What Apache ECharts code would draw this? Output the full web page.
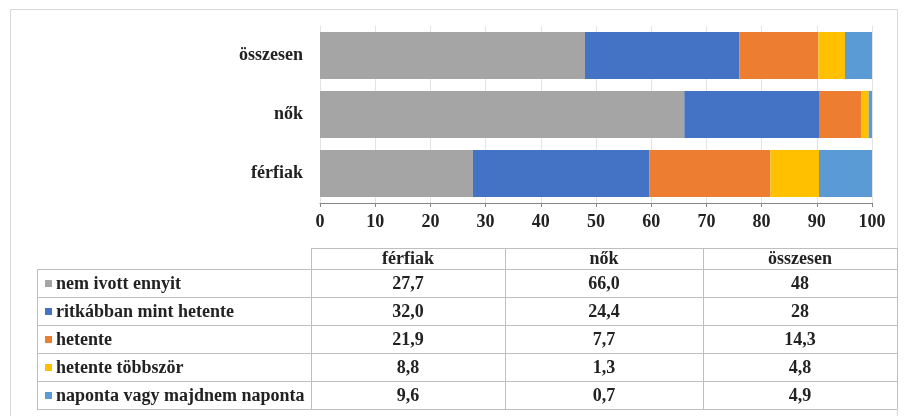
<!DOCTYPE html>
<html>
<head>
<meta charset="utf-8">
<script src="https://cdn.jsdelivr.net/npm/echarts@6/dist/echarts.min.js"></script>
<style>
  html, body { margin: 0; padding: 0; background: #fff; }
  #chart { width: 904px; height: 416px; }
</style>
</head>
<body>
<div id="chart"></div>
<script>
// kategóriák (alulról felfelé, ahogy a tengelyen)
var groups = ['férfiak', 'nők', 'összesen'];
var seriesNames = ['nem ivott ennyit', 'ritkábban mint hetente', 'hetente', 'hetente többször', 'naponta vagy majdnem naponta'];
var colors = ['#a5a5a5', '#4472c4', '#ed7d31', '#ffc000', '#5b9bd5'];
// értékek: egy tömb soronként, sorrend: férfiak, nők, összesen
var nemIvott = [27.7, 66.0, 48];
var ritkabban = [32.0, 24.4, 28];
var hetente = [21.9, 7.7, 14.3];
var hetenteTobb = [8.8, 1.3, 4.8];
var naponta = [9.6, 0.7, 4.9];
var values = [nemIvott, ritkabban, hetente, hetenteTobb, naponta];
// tizedesjegyek oszloponként a táblázatban (null = ahogy van)
var colDigits = [1, 1, null];
var xTicks = [0, 10, 20, 30, 40, 50, 60, 70, 80, 90, 100];

function fmt(v, d) {
    var s = d === null ? String(v) : v.toFixed(d);
    return s.replace('.', ',');
}

var chart = echarts.init(document.getElementById('chart'));

/* adattábla a diagram alatt */
var tbl = {
    left: 37, c1: 311, c2: 505, c3: 703, right: 897,
    headTop: 248, rowTop: 269, rowH: 28
};
var lineColor = '#bfbfbf';
var font = 'Liberation Serif, DejaVu Serif, serif';
var txtColor = '#222';
var fs = 18;
var graphics = [];
function hline(x1, x2, y) {
    graphics.push({type: 'line', shape: {x1: x1, y1: y + 0.5, x2: x2, y2: y + 0.5},
        style: {stroke: lineColor, lineWidth: 1}, silent: true});
}
function vline(x, y1, y2) {
    graphics.push({type: 'line', shape: {x1: x + 0.5, y1: y1, x2: x + 0.5, y2: y2},
        style: {stroke: lineColor, lineWidth: 1}, silent: true});
}
function txt(s, x, y, align) {
    return {type: 'text', x: x, y: y,
        style: {text: s, fontSize: fs, fontWeight: 'bold', fontFamily: font, fill: txtColor,
            align: align, verticalAlign: 'middle'}};
}
var cols = [tbl.c1, tbl.c2, tbl.c3, tbl.right];
var bottom = tbl.rowTop + tbl.rowH * seriesNames.length;
hline(tbl.c1, tbl.right, tbl.headTop);
for (var r = 0; r <= seriesNames.length; r++) {
    hline(tbl.left, tbl.right, tbl.rowTop + r * tbl.rowH);
}
vline(tbl.left, tbl.rowTop, bottom);
cols.forEach(function (x) { vline(x, tbl.headTop, bottom); });

groups.forEach(function (g, c) {
    var cx = (cols[c] + cols[c + 1]) / 2;
    graphics.push(txt(g, cx, (tbl.headTop + tbl.rowTop) / 2 + 1, 'center'));
});
seriesNames.forEach(function (name, r) {
    var cy = tbl.rowTop + r * tbl.rowH + tbl.rowH / 2 + 1;
    graphics.push({type: 'rect', shape: {x: tbl.left + 8, y: cy - 4, width: 7, height: 7},
        style: {fill: colors[r]}});
    graphics.push(txt(name, tbl.left + 19, cy, 'left'));
    groups.forEach(function (g, c) {
        var cx = (cols[c] + cols[c + 1]) / 2;
        graphics.push(txt(fmt(values[r][c], colDigits[c]), cx, cy, 'center'));
    });
});
// külső keret
graphics.push({type: 'rect', shape: {x: 10.5, y: 9.5, width: 887, height: 420},
    style: {fill: 'none', stroke: '#d9d9d9', lineWidth: 1}, silent: true, z: -1});

var option = {
    animation: false,
    backgroundColor: '#fff',
    color: colors,
    grid: {left: 320, right: 32, top: 26, bottom: 213},
    xAxis: {
        type: 'value',
        min: xTicks[0],
        max: xTicks[xTicks.length - 1],
        interval: xTicks[1] - xTicks[0],
        axisLine: {show: true, lineStyle: {color: '#868686'}},
        axisTick: {show: true, length: 4, lineStyle: {color: '#868686'}},
        axisLabel: {color: txtColor, fontSize: fs, fontWeight: 'bold', fontFamily: font, margin: 10},
        splitLine: {show: true, lineStyle: {color: '#e3e3e3'}}
    },
    yAxis: {
        type: 'category',
        data: groups,
        axisLine: {show: false},
        axisTick: {show: false},
        axisLabel: {color: txtColor, fontSize: fs, fontWeight: 'bold', fontFamily: font, margin: 17}
    },
    series: seriesNames.map(function (name, i) {
        return {
            name: name,
            type: 'bar',
            stack: 'total',
            barCategoryGap: '20%',
            data: values[i]
        };
    }),
    graphic: graphics
};
chart.setOption(option);
</script>
</body>
</html>
